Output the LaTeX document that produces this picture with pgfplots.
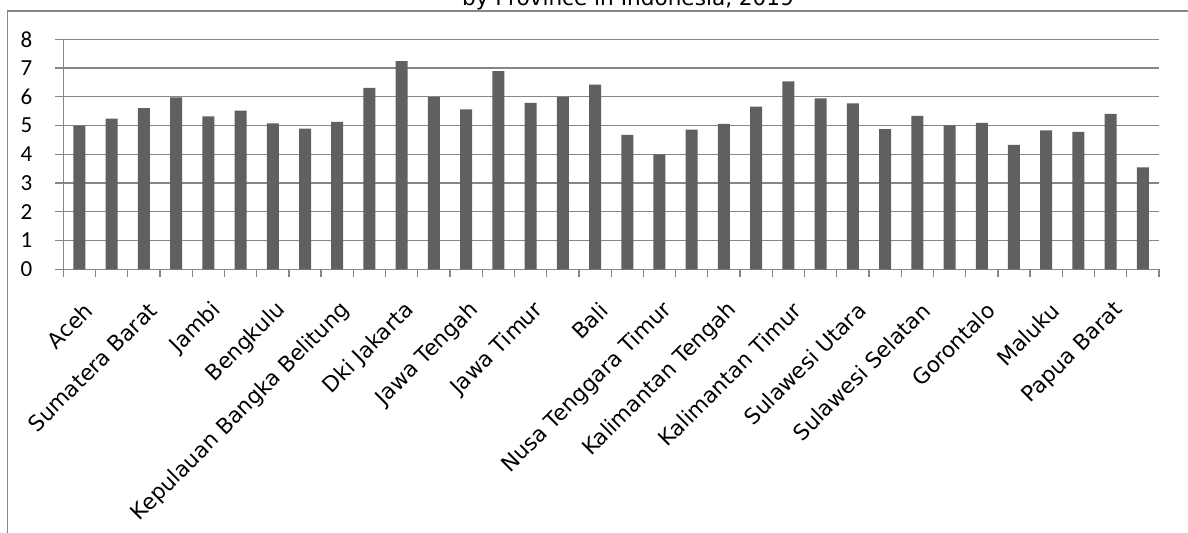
\documentclass[border=0pt]{standalone}
\usepackage{pgfplots}
\pgfplotsset{compat=1.18}
\usepackage{fontspec}
\setmainfont{DejaVu Sans}
\newfontfamily\carlito{Carlito}

\definecolor{gridgray}{RGB}{134,134,134}
\definecolor{bargray}{RGB}{96,96,96}

\begin{document}
\begin{tikzpicture}
    % page = 1188 x 532 px at 2 px per pt
    \useasboundingbox (0,0) rectangle (594pt,266pt);
    % outer chart frame (only top and left edges fall inside the crop)
    \draw[gridgray, line width=0.8pt] (3.65pt,-10pt) -- (3.65pt,260.6pt) -- (620pt,260.6pt);
    \node[anchor=base, font=\fontsize{10.8}{13}\selectfont] at (314pt,263.5pt) {by Province in Indonesia, 2019};

    \begin{axis}[
        at={(31.65pt,131.35pt)}, anchor=south west,
        scale only axis,
        width=547.85pt, height=115pt,
        axis lines=left,
        axis line style={draw=gridgray, line width=0.65pt, -},
        tick style={draw=gridgray, line width=0.65pt},
        tick align=outside,
        major tick length=4pt,
        ymin=0, ymax=8, ytick={0,...,8},
        ymajorgrids=true,
        major grid style={draw=gridgray, line width=0.65pt},
        xmin=-0.5, xmax=33.5,
        xtick={-0.5,0.5,...,33.5}, xticklabels={},
        extra x ticks={0,2,...,32},
        extra x tick labels={Aceh,Sumatera Barat,Jambi,Bengkulu,Kepulauan Bangka Belitung,Dki Jakarta,Jawa Tengah,Jawa Timur,Bali,Nusa Tenggara Timur,Kalimantan Tengah,Kalimantan Timur,Sulawesi Utara,Sulawesi Selatan,Gorontalo,Maluku,Papua Barat},
        extra x tick style={major tick length=0pt, tick style={draw=none}},
        x tick label style={font=\fontsize{10.8}{13}\selectfont, xshift=7.25pt, yshift=-16pt, rotate=45, anchor=east, inner sep=3.7pt},
        y tick label style={font=\carlito\fontsize{11.5}{13}\selectfont, xshift=-8pt},
        /pgf/number format/assume math mode=true,
        ybar, bar width=6pt,
        clip=false,
    ]
    \addplot[draw=none, fill=bargray] coordinates {
        (0,5.00) (1,5.24) (2,5.61) (3,5.98) (4,5.32) (5,5.52) (6,5.08) (7,4.89)
        (8,5.13) (9,6.31) (10,7.24) (11,5.99) (12,5.56) (13,6.89) (14,5.79) (15,5.99)
        (16,6.42) (17,4.68) (18,4.00) (19,4.86) (20,5.06) (21,5.66) (22,6.54) (23,5.95)
        (24,5.77) (25,4.88) (26,5.34) (27,5.01) (28,5.09) (29,4.33) (30,4.83) (31,4.78)
        (32,5.41) (33,3.55)
    };
    \end{axis}
\end{tikzpicture}
\end{document}
